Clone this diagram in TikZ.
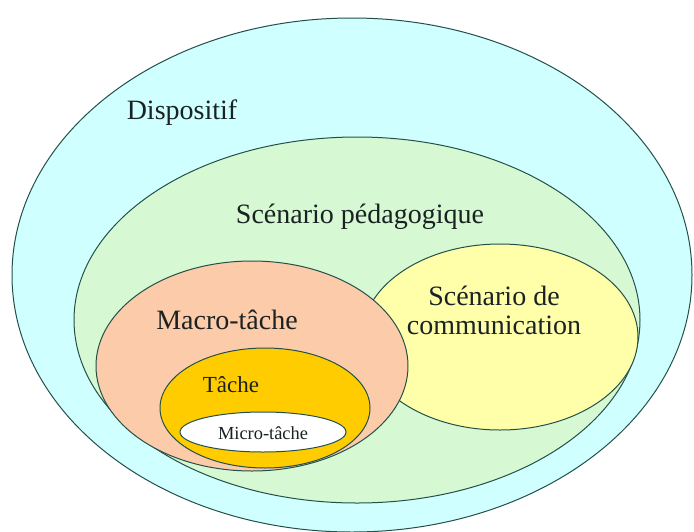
\documentclass[tikz,border=0pt]{standalone}
\usepackage{fontspec}
\setmainfont{Liberation Serif}
\definecolor{cyanfill}{HTML}{CFFFFF}
\definecolor{greenfill}{HTML}{D6F8D2}
\definecolor{peachfill}{HTML}{FBCBAA}
\definecolor{yellowfill}{HTML}{FFFFAA}
\definecolor{goldfill}{HTML}{FFCC00}
\definecolor{edge}{HTML}{24504A}
\definecolor{ink}{HTML}{1A2222}
\tikzset{
  setshape/.style={draw=edge, line width=1pt},
  biglabel/.style={font=\fontsize{28}{30}\selectfont, text=ink, inner sep=0pt},
}
\begin{document}
\begin{tikzpicture}[x=1pt,y=-1pt]
\useasboundingbox (0,0) rectangle (694,531);
\fill[white] (0,0) rectangle (694,531);
\draw[setshape, fill=cyanfill] (352,275) ellipse [x radius=340, y radius=257];
\draw[setshape, fill=greenfill] (357,320) ellipse [x radius=283, y radius=183];
\draw[setshape, fill=yellowfill] (500,337) ellipse [x radius=138, y radius=93];
\draw[setshape, fill=peachfill] (252,366) ellipse [x radius=156, y radius=105];
\draw[setshape, fill=goldfill] (265,408) ellipse [x radius=105, y radius=60];
\draw[setshape, fill=white] (263,432) ellipse [x radius=83, y radius=20];
\node[biglabel] (disp) at (182,113) {Dispositif};
\node[biglabel] (ped) at (360,217) {Scénario pédagogique};
\node[biglabel] (macro) at (227,320) {Macro-tâche};
\node[biglabel, align=center, font=\fontsize{28}{29}\selectfont] (comm) at (494,310) {Scénario de\\communication};
\node[inner sep=0pt, text=ink, font=\fontsize{23}{25}\selectfont] (tache) at (231,385) {Tâche};
\node[inner sep=0pt, text=ink, font=\fontsize{18.4}{20}\selectfont] (micro) at (263,433) {Micro-tâche};
\end{tikzpicture}
\end{document}
